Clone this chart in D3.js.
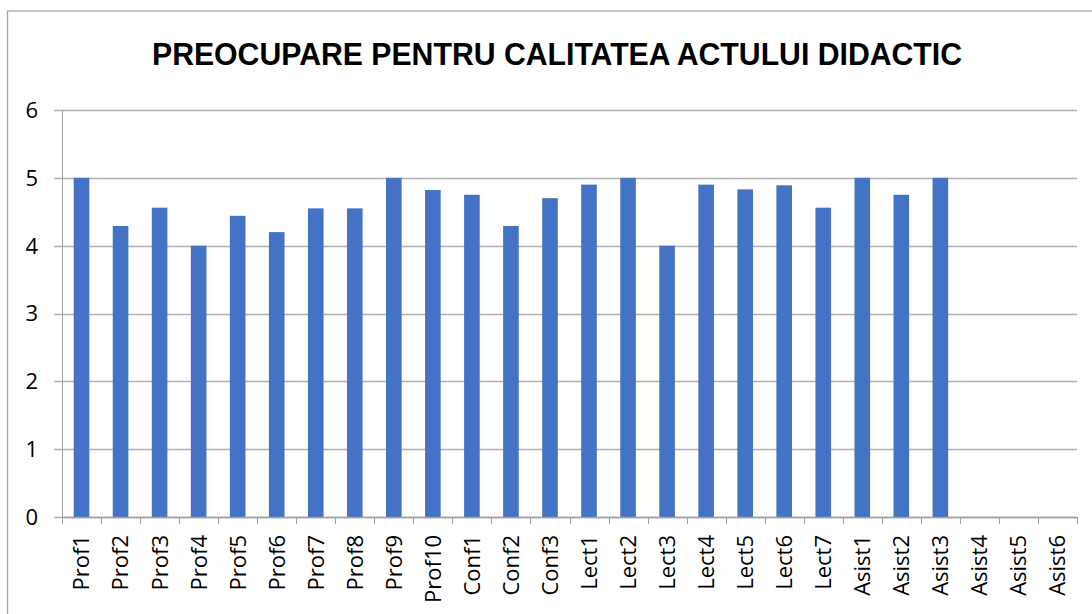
<!DOCTYPE html>
<html>
<head>
<meta charset="utf-8">
<script src="https://cdn.jsdelivr.net/npm/d3@7"></script>
<style>
  body { margin: 0; background: #fff; }
  svg { display: block; }
</style>
</head>
<body>
<script>
var chartTitle = "PREOCUPARE PENTRU CALITATEA ACTULUI DIDACTIC";
var categories = ["Prof1", "Prof2", "Prof3", "Prof4", "Prof5", "Prof6", "Prof7", "Prof8", "Prof9", "Prof10",
  "Conf1", "Conf2", "Conf3", "Lect1", "Lect2", "Lect3", "Lect4", "Lect5", "Lect6", "Lect7",
  "Asist1", "Asist2", "Asist3", "Asist4", "Asist5", "Asist6"];
var values = [5, 4.29, 4.56, 4, 4.44, 4.2, 4.55, 4.55, 5, 4.82,
  4.75, 4.29, 4.7, 4.9, 5, 4, 4.9, 4.83, 4.89, 4.56,
  5, 4.75, 5, 0, 0, 0];
var yTicks = [0, 1, 2, 3, 4, 5, 6];

var width = 1092, height = 614;
var margin = { left: 62, right: 15, top: 110, bottom: 97 };
var labelFont = "'Open Sans', 'Noto Sans', sans-serif";

var svg = d3.select("body")
  .append("svg")
  .attr("width", width)
  .attr("height", height);

// outer chart frame
svg.append("rect")
  .attr("x", 7.5)
  .attr("y", 11)
  .attr("width", 1200)
  .attr("height", 700)
  .attr("fill", "none")
  .attr("stroke", "#a6a6a6")
  .attr("stroke-width", 1.3);

var x = d3.scaleBand()
  .domain(categories)
  .range([margin.left, width - margin.right])
  .paddingInner(0.6)
  .paddingOuter(0.3);

var y = d3.scaleLinear()
  .domain([0, 6])
  .range([height - margin.bottom, margin.top]);

// gridlines
svg.append("g")
  .selectAll("line")
  .data(yTicks)
  .enter()
  .append("line")
  .attr("x1", margin.left - 8)
  .attr("x2", width - margin.right)
  .attr("y1", function (d) { return Math.round(y(d)) + 0.5; })
  .attr("y2", function (d) { return Math.round(y(d)) + 0.5; })
  .attr("stroke", "#b0b0b0")
  .attr("stroke-width", 1.3);

// y axis line
svg.append("line")
  .attr("x1", margin.left + 0.5)
  .attr("x2", margin.left + 0.5)
  .attr("y1", y(6))
  .attr("y2", y(0))
  .attr("stroke", "#a0a0a0")
  .attr("stroke-width", 1);

// y labels
svg.append("g")
  .selectAll("text")
  .data(yTicks)
  .enter()
  .append("text")
  .attr("x", 38)
  .attr("y", function (d) { return y(d); })
  .attr("dy", "0.36em")
  .attr("text-anchor", "end")
  .attr("font-family", labelFont)
  .attr("font-size", 22)
  .attr("fill", "#000")
  .text(function (d) { return d; });

// bars
svg.append("g")
  .selectAll("rect")
  .data(values)
  .enter()
  .append("rect")
  .attr("x", function (d, i) { return x(categories[i]); })
  .attr("y", function (d) { return y(d); })
  .attr("width", x.bandwidth())
  .attr("height", function (d) { return y(0) - y(d); })
  .attr("fill", "#4472c4");

// x category ticks
var tickPos = d3.range(categories.length + 1).map(function (i) {
  return margin.left + i * x.step();
});
svg.append("g")
  .selectAll("line")
  .data(tickPos)
  .enter()
  .append("line")
  .attr("x1", function (d) { return Math.round(d) + 0.5; })
  .attr("x2", function (d) { return Math.round(d) + 0.5; })
  .attr("y1", y(0))
  .attr("y2", y(0) + 7)
  .attr("stroke", "#a0a0a0")
  .attr("stroke-width", 1);

svg.append("line")
  .attr("x1", margin.left)
  .attr("x2", width - margin.right)
  .attr("y1", Math.round(y(0)) + 0.5)
  .attr("y2", Math.round(y(0)) + 0.5)
  .attr("stroke", "#a0a0a0")
  .attr("stroke-width", 1.3);

// x labels, rotated
svg.append("g")
  .selectAll("text")
  .data(categories)
  .enter()
  .append("text")
  .attr("transform", function (d) {
    var cx = x(d) + x.bandwidth() / 2;
    return "translate(" + cx + "," + (y(0) + 18) + ") rotate(-90)";
  })
  .attr("dy", "0.36em")
  .attr("text-anchor", "end")
  .attr("font-family", labelFont)
  .attr("font-size", 22)
  .attr("fill", "#000")
  .text(function (d) { return d; });

// title
svg.append("text")
  .attr("x", 557)
  .attr("y", 65)
  .attr("text-anchor", "middle")
  .attr("font-family", "Liberation Sans, Arial, sans-serif")
  .attr("font-weight", "bold")
  .attr("font-size", 31)
  .attr("textLength", 810)
  .attr("lengthAdjust", "spacingAndGlyphs")
  .attr("fill", "#000")
  .text(chartTitle);
</script>
</body>
</html>
